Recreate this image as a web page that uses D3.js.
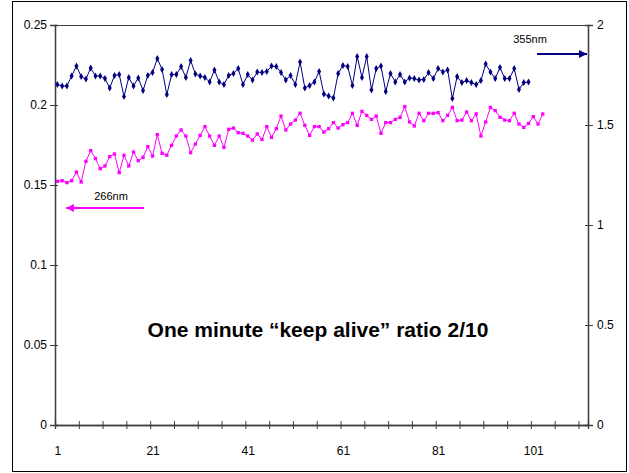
<!DOCTYPE html>
<html>
<head>
<meta charset="utf-8">
<script src="https://cdn.jsdelivr.net/npm/d3@7"></script>
<style>
  body { margin: 0; background: #fff; }
  text { font-family: "Liberation Sans", Arial, sans-serif; }
</style>
</head>
<body>
<script>
// chart data
var nCategories = 112;
var xLabels = [1, 21, 41, 61, 81, 101];

var leftTicks = [0, 0.05, 0.1, 0.15, 0.2, 0.25];
var rightTicks = [0, 0.5, 1, 1.5, 2];

// 355nm, plotted against the right axis
var s355 = [1.702, 1.695, 1.695, 1.745, 1.795, 1.742, 1.730, 1.785, 1.745, 1.745,
            1.732, 1.685, 1.748, 1.752, 1.642, 1.738, 1.695, 1.735, 1.672, 1.748,
            1.762, 1.832, 1.778, 1.652, 1.752, 1.752, 1.792, 1.738, 1.822, 1.755,
            1.745, 1.738, 1.715, 1.775, 1.715, 1.702, 1.748, 1.758, 1.782, 1.702,
            1.752, 1.725, 1.765, 1.762, 1.768, 1.795, 1.792, 1.762, 1.725, 1.748,
            1.703, 1.815, 1.685, 1.698, 1.715, 1.768, 1.655, 1.645, 1.635, 1.758,
            1.798, 1.792, 1.698, 1.842, 1.738, 1.842, 1.675, 1.782, 1.795, 1.668,
            1.758, 1.715, 1.752, 1.715, 1.735, 1.732, 1.725, 1.728, 1.762, 1.732,
            1.782, 1.765, 1.775, 1.632, 1.742, 1.712, 1.722, 1.712, 1.702, 1.722,
            1.805, 1.765, 1.732, 1.788, 1.732, 1.732, 1.782, 1.678, 1.712, 1.715];

// 266nm, plotted against the left axis
var s266 = [0.1523, 0.1527, 0.1515, 0.1527, 0.1581, 0.1519, 0.1648, 0.1715, 0.1665, 0.1602,
            0.1619, 0.1677, 0.1694, 0.1577, 0.1686, 0.1619, 0.1706, 0.1652, 0.1673, 0.1740,
            0.1681, 0.1815, 0.1698, 0.1686, 0.1748, 0.1806, 0.1844, 0.1806, 0.1702, 0.1756,
            0.1810, 0.1865, 0.1806, 0.1748, 0.1806, 0.1735, 0.1848, 0.1856, 0.1827, 0.1823,
            0.1806, 0.1781, 0.1819, 0.1785, 0.1865, 0.1798, 0.1852, 0.1931, 0.1844, 0.1881,
            0.1906, 0.1948, 0.1873, 0.1810, 0.1865, 0.1865, 0.1831, 0.1852, 0.1890, 0.1856,
            0.1877, 0.1890, 0.1948, 0.1873, 0.1960, 0.1935, 0.1910, 0.1931, 0.1823, 0.1890,
            0.1890, 0.1910, 0.1923, 0.1990, 0.1894, 0.1869, 0.1948, 0.1902, 0.1948, 0.1948,
            0.1952, 0.1902, 0.1935, 0.1985, 0.1902, 0.1906, 0.1956, 0.1902, 0.1944, 0.1806,
            0.1894, 0.1985, 0.1965, 0.1923, 0.1906, 0.1902, 0.1948, 0.1881, 0.1860, 0.1885,
            0.1927, 0.1881, 0.1944];

var title = "One minute \u201ckeep alive\u201d ratio 2/10";

var svgWidth = 629;
var svgHeight = 473;
var plot = { left: 55, right: 588, top: 25, bottom: 425 };
var axisColor = "#404040";

var svg = d3.select("body").append("svg")
            .attr("width", svgWidth)
            .attr("height", svgHeight);

// outer chart border
svg.append("rect")
   .attr("x", 12.5).attr("y", 1.5)
   .attr("width", 614).attr("height", 470)
   .attr("fill", "none").attr("stroke", "#000").attr("stroke-width", 1);

var xscale = d3.scaleLinear()
               .domain([0.5, nCategories + 0.5])
               .range([plot.left, plot.right]);
var yleft = d3.scaleLinear()
              .domain([0, 0.25])
              .range([plot.bottom, plot.top]);
var yright = d3.scaleLinear()
               .domain([0, 2])
               .range([plot.bottom, plot.top]);

// plot area frame (top edge)
svg.append("line")
   .attr("x1", plot.left).attr("x2", plot.right)
   .attr("y1", plot.top + 0.5).attr("y2", plot.top + 0.5)
   .attr("stroke", axisColor);

// x ticks sit between categories, every 5
var xTickVals = d3.range(0.5, nCategories, 5);
var xaxis = d3.axisBottom(xscale).tickValues(xTickVals).tickSize(4).tickFormat("");
svg.append("g").attr("class", "axis")
   .attr("transform", `translate(0,${plot.bottom})`)
   .call(xaxis);
svg.append("g").attr("class", "axis")
   .attr("transform", `translate(0,${plot.bottom})`)
   .call(d3.axisTop(xscale).tickValues(xTickVals).tickSize(4).tickFormat(""));
svg.append("g").attr("class", "axis xlab")
   .attr("transform", `translate(0,${plot.bottom})`)
   .call(d3.axisBottom(xscale).tickValues(xLabels).tickSize(0).tickPadding(21.5));

// left axis
svg.append("g").attr("class", "axis")
   .attr("transform", `translate(${plot.left},0)`)
   .call(d3.axisLeft(yleft).tickValues(leftTicks).tickSize(5).tickPadding(3)
           .tickFormat(function(d){ return String(+d.toFixed(2)); }));
svg.append("g").attr("class", "axis")
   .attr("transform", `translate(${plot.left},0)`)
   .call(d3.axisRight(yleft).tickValues(leftTicks).tickSize(3).tickFormat(""));

// right axis
svg.append("g").attr("class", "axis")
   .attr("transform", `translate(${plot.right},0)`)
   .call(d3.axisRight(yright).tickValues(rightTicks).tickSize(5).tickPadding(4)
           .tickFormat(function(d){ return String(d); }));
svg.append("g").attr("class", "axis")
   .attr("transform", `translate(${plot.right},0)`)
   .call(d3.axisLeft(yright).tickValues(rightTicks).tickSize(3).tickFormat(""));

svg.selectAll(".axis path.domain").attr("stroke", axisColor).attr("stroke-width", 1.3);
svg.selectAll(".axis .tick line").attr("stroke", axisColor);
svg.selectAll(".axis text").attr("font-size", "12px").attr("fill", "#000")
   .attr("font-family", "Liberation Sans, Arial, sans-serif");
svg.selectAll(".xlab path.domain").remove();

// series lines
var line355 = d3.line()
                .x(function(d, i){ return xscale(i + 1); })
                .y(function(d){ return yright(d); });
var line266 = d3.line()
                .x(function(d, i){ return xscale(i + 1); })
                .y(function(d){ return yleft(d); });

svg.append("path").datum(s266)
   .attr("d", line266).attr("fill", "none")
   .attr("stroke", "#ff00ff").attr("stroke-width", 1);
svg.append("path").datum(s355)
   .attr("d", line355).attr("fill", "none")
   .attr("stroke", "#000080").attr("stroke-width", 1);

svg.selectAll("path.m266").data(s266).enter().append("path")
   .attr("class", "m266")
   .attr("d", d3.symbol(d3.symbolSquare).size(11))
   .attr("transform", function(d, i){ return `translate(${xscale(i + 1)},${yleft(d)})`; })
   .attr("fill", "#ff00ff");
svg.selectAll("path.m355").data(s355).enter().append("path")
   .attr("class", "m355")
   .attr("d", d3.symbol(d3.symbolDiamond).size(14))
   .attr("transform", function(d, i){ return `translate(${xscale(i + 1)},${yright(d)})`; })
   .attr("fill", "#000080");

// arrows naming the series
var defs = svg.append("defs");
function arrowHead(id, color) {
  defs.append("marker")
      .attr("id", id).attr("viewBox", "0 0 10 10")
      .attr("refX", 10).attr("refY", 5)
      .attr("markerWidth", 4.5).attr("markerHeight", 4)
      .attr("markerUnits", "strokeWidth")
      .attr("orient", "auto")
      .append("path").attr("d", "M0,0 L10,5 L0,10 Z").attr("fill", color);
}
arrowHead("head355", "#000080");
arrowHead("head266", "#ff00ff");

svg.append("line")
   .attr("x1", 537).attr("y1", 54).attr("x2", 587).attr("y2", 54)
   .attr("stroke", "#000080").attr("stroke-width", 2)
   .attr("marker-end", "url(#head355)");
svg.append("text")
   .attr("x", 530).attr("y", 43)
   .attr("text-anchor", "middle").attr("font-size", "11px")
   .text("355nm");

svg.append("line")
   .attr("x1", 144).attr("y1", 208).attr("x2", 66).attr("y2", 208)
   .attr("stroke", "#ff00ff").attr("stroke-width", 2)
   .attr("marker-end", "url(#head266)");
svg.append("text")
   .attr("x", 111).attr("y", 200)
   .attr("text-anchor", "middle").attr("font-size", "11px")
   .text("266nm");

svg.append("text")
   .attr("x", 318).attr("y", 337)
   .attr("text-anchor", "middle")
   .attr("font-size", "21px").attr("font-weight", "bold")
   .text(title);
</script>
</body>
</html>
